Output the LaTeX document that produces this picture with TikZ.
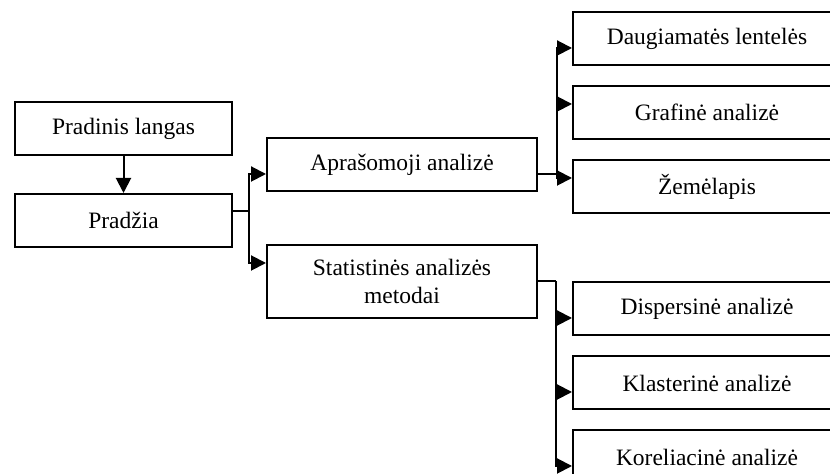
\documentclass[tikz,border=0pt]{standalone}
\usepackage{fontspec}
\setmainfont{Liberation Serif}
\usepackage{xcolor}
\usepackage{tikz}
\usetikzlibrary{positioning,arrows.meta}

\begin{document}
\begin{tikzpicture}[x=0.5pt,y=-0.5pt,
block/.style={rectangle,draw=black,line width=1pt,inner sep=0pt,
minimum height=26.5pt,align=center,font=\fontsize{11.75}{14}\selectfont},
startbox/.style={block,minimum width=108.5pt},
middlebox/.style={block,minimum width=135pt},
leafbox/.style={block,minimum width=134pt},
arr/.style={-{Triangle[length=7.5pt,width=7.5pt]},line width=1pt},
link/.style={line width=1pt}]
    \useasboundingbox (0,0) rectangle (830,474);
    \clip (0,0) rectangle (830,474);
    \node[startbox] (Pradinis) at (123.5,128.5) {Pradinis langas};
    \node[startbox] (Pradzia) [below=18.5pt of Pradinis] {Pradžia};
    \node[middlebox] (Aprasomoji) at (402,165) {Aprašomoji analizė};
    \node[middlebox,minimum height=36.5pt] (Statistines) at (402,281.5) {Statistinės analizės\\metodai};
    \node[leafbox] (Daugiamates) at (707,38.5) {Daugiamatės lentelės};
    \node[leafbox] (Grafine) [below=9.5pt of Daugiamates] {Grafinė analizė};
    \node[leafbox] (Zemelapis) [below=9.5pt of Grafine] {Žemėlapis};
    \node[leafbox] (Dispersine) at (707,309) {Dispersinė analizė};
    \node[leafbox] (Klasterine) [below=9.5pt of Dispersine] {Klasterinė analizė};
    \node[leafbox] (Koreliacine) [below=9.5pt of Klasterine] {Koreliacinė analizė};
    \path ([yshift=4.5pt]Pradzia.east) ++(16,0) coordinate (Left fork);
    \path ([yshift=-4.5pt]Aprasomoji.east) ++(19,0) coordinate (Upper fork);
    \path (Statistines.east) ++(18,0) coordinate (Lower fork);
    \draw [arr] (Pradinis) to (Pradzia);
    \draw [link] ([yshift=4.5pt]Pradzia.east) -- (Left fork);
    \draw [arr] (Left fork) |- ([yshift=-4.5pt]Aprasomoji.west);
    \draw [arr] (Left fork) |- ([yshift=9.25pt]Statistines.west);
    \draw [link] ([yshift=-4.5pt]Aprasomoji.east) -- (Upper fork);
    \draw [arr] (Upper fork) |- ([yshift=-4.75pt]Daugiamates.west);
    \draw [arr] (Upper fork) |- ([yshift=4.25pt]Grafine.west);
    \draw [arr] (Upper fork) |- ([yshift=4.25pt]Zemelapis.west);
    \draw [link] (Statistines.east) -- (Lower fork);
    \draw [arr] (Lower fork) |- ([yshift=-4.5pt]Dispersine.west);
    \draw [arr] (Lower fork) |- ([yshift=-4.5pt]Klasterine.west);
    \draw [arr] (Lower fork) |- ([yshift=-4.5pt]Koreliacine.west);
\end{tikzpicture}
\end{document}
